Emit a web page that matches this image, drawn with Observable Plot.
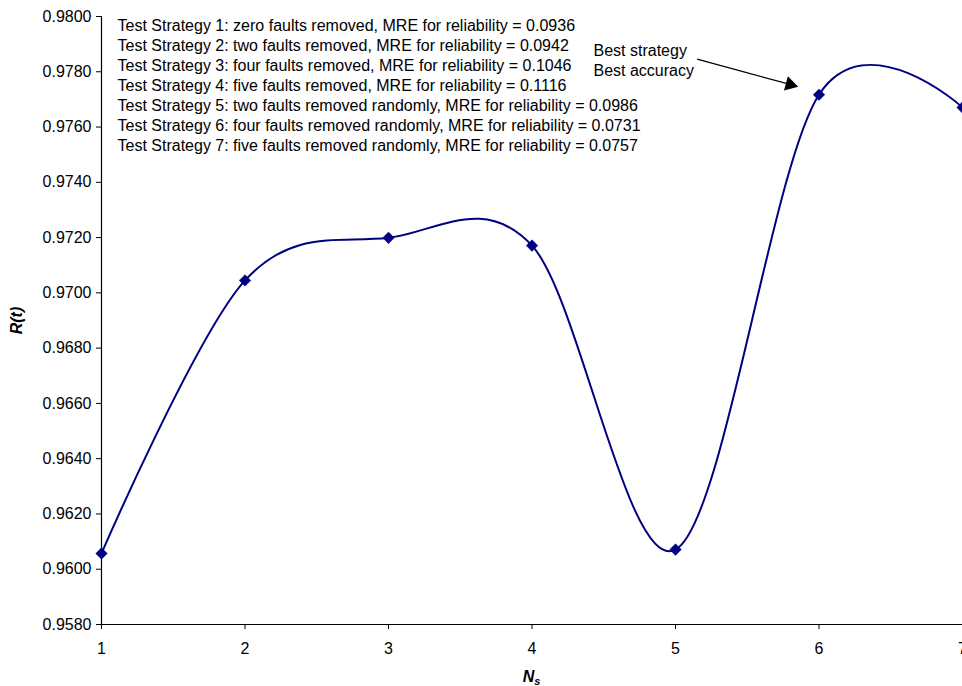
<!DOCTYPE html>
<html>
<head>
<meta charset="utf-8">
<script src="https://cdn.jsdelivr.net/npm/d3@7"></script>
<script src="https://cdn.jsdelivr.net/npm/@observablehq/plot@0.6"></script>
<style>
  html, body { margin: 0; padding: 0; background: #fff; overflow: hidden; }
  #chart svg { display: block; }
</style>
</head>
<body>
<div id="chart"></div>
<script>
// ---- data ----
const ns = [1, 2, 3, 4, 5, 6, 7];
const reliability = [0.96057, 0.97045, 0.97199, 0.97171, 0.96071, 0.97717, 0.97671];
const yTicks = [0.958, 0.960, 0.962, 0.964, 0.966, 0.968, 0.970, 0.972, 0.974, 0.976, 0.978, 0.980];
const xTicks = [1, 2, 3, 4, 5, 6, 7];
const strategyNotes = [
  "Test Strategy 1: zero faults removed, MRE for reliability = 0.0936",
  "Test Strategy 2: two faults removed, MRE for reliability = 0.0942",
  "Test Strategy 3: four faults removed, MRE for reliability = 0.1046",
  "Test Strategy 4: five faults removed, MRE for reliability = 0.1116",
  "Test Strategy 5: two faults removed randomly, MRE for reliability = 0.0986",
  "Test Strategy 6: four faults removed randomly, MRE for reliability = 0.0731",
  "Test Strategy 7: five faults removed randomly, MRE for reliability = 0.0757"
];
const bestNote = ["Best strategy", "Best accuracy"];
const bestNoteAt = [{x: 4.4286, y: 0.97909}];
const arrowFrom = [{x: 5.151, y: 0.97846}];
const arrowHead = [{x: 5.798, y: 0.97754}];
const yLabel = "R(t)";
const xLabelMain = "N";
const xLabelSub = "s";

const points = ns.map((n, i) => ({n, r: reliability[i]}));
const navy = "#000080";
const font = "'Liberation Sans', Arial, Helvetica, sans-serif";

const chart = Plot.plot({
  width: 962,
  height: 686,
  marginTop: 16,
  marginBottom: 62,
  marginLeft: 101,
  marginRight: 0,
  style: {fontFamily: font, fontSize: "16px", color: "#000", background: "#fff"},
  x: {domain: [1, 7], label: null},
  y: {domain: [0.958, 0.980], label: null},
  marks: [
    Plot.axisY({ticks: yTicks, tickFormat: d3.format(".4f"), tickSize: 5, tickPadding: 5, label: null, fontSize: 16}),
    Plot.axisX({ticks: xTicks, tickFormat: d3.format("d"), tickSize: 5, tickPadding: 13, label: null, fontSize: 16}),
    Plot.ruleX([1], {stroke: "#000", strokeWidth: 1.2}),
    Plot.ruleY([0.958], {stroke: "#000", strokeWidth: 1.2}),
    Plot.line(points, {x: "n", y: "r", curve: "cardinal", stroke: navy, strokeWidth: 2}),
    Plot.dot(points, {x: "n", y: "r", symbol: "diamond2", r: 5.2, fill: navy, stroke: navy, strokeWidth: 0.5}),
    Plot.text([strategyNotes.join("\n")], {
      text: d => d, frameAnchor: "top-left", dx: 16, dy: 0,
      textAnchor: "start", lineAnchor: "top", lineHeight: 1.25, fontSize: 16, fill: "#000"
    }),
    Plot.text(bestNoteAt, {
      x: "x", y: "y", text: () => bestNote.join("\n"),
      textAnchor: "start", lineAnchor: "top", lineHeight: 1.27, fontSize: 16, fill: "#000"
    }),
    Plot.link([{a: arrowFrom[0], b: arrowHead[0]}], {
      x1: d => d.a.x, y1: d => d.a.y, x2: d => d.b.x, y2: d => d.b.y,
      stroke: "#000", strokeWidth: 1.3
    }),
    Plot.dot(arrowHead, {x: "x", y: "y", symbol: "triangle2", r: 7, rotate: 105.4, fill: "#000", stroke: "none"}),
    Plot.text([yLabel], {
      text: d => d, frameAnchor: "left", dx: -85, rotate: -90,
      textAnchor: "middle", lineAnchor: "middle", fontSize: 16, fontWeight: "bold", fontStyle: "italic", fill: "#000"
    })
  ]
});

// x axis title with subscript
const svg = d3.select(chart);
const t = svg.append("text")
  .attr("x", 531.5)
  .attr("y", 681.7)
  .attr("text-anchor", "middle")
  .attr("font-family", font)
  .attr("font-size", 16)
  .attr("font-weight", "bold")
  .attr("font-style", "italic")
  .attr("fill", "#000");
t.append("tspan").text(xLabelMain);
t.append("tspan").attr("font-size", 11).attr("dy", 3).text(xLabelSub);

document.getElementById("chart").appendChild(chart);
</script>
</body>
</html>
